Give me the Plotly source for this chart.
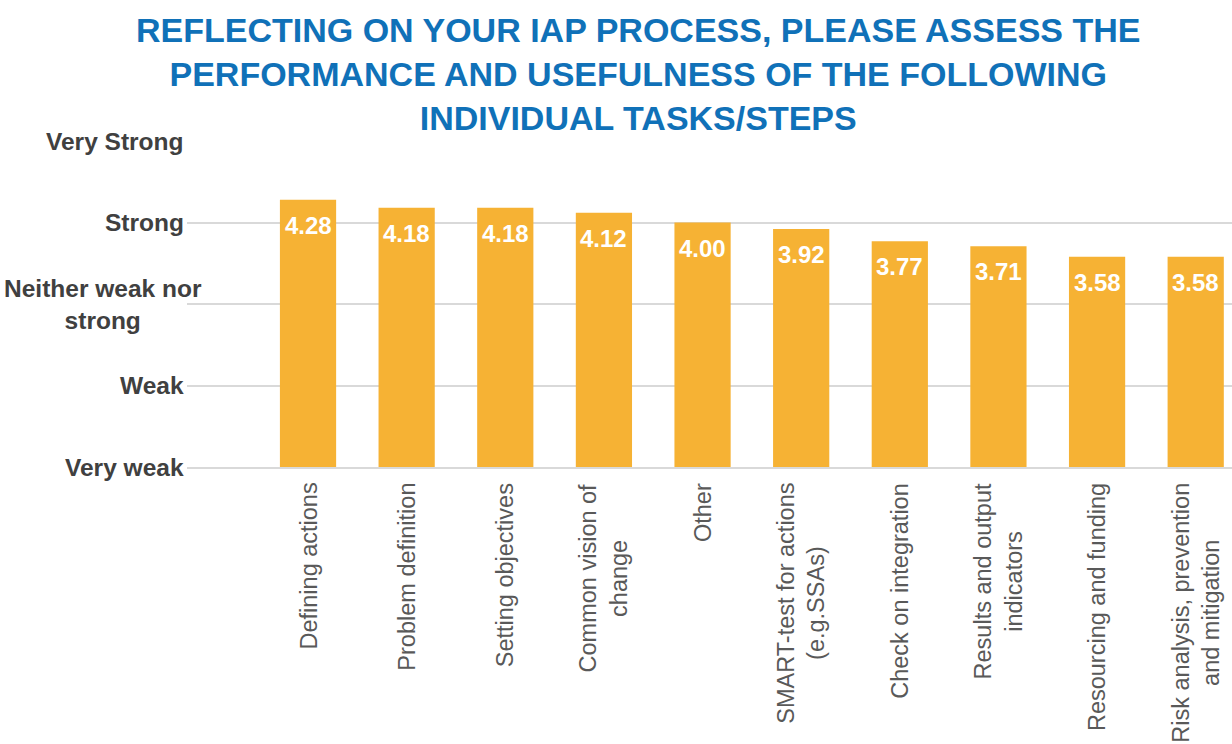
import plotly.graph_objects as go

# ── Datos ─────────────────────────────────────────────────────────────
tareas = [
    "Defining actions",
    "Problem definition",
    "Setting objectives",
    "Common vision of<br>change",
    "Other",
    "SMART-test for actions<br>(e.g.SSAs)",
    "Check on integration",
    "Results and output<br>indicators",
    "Resourcing and funding",
    "Risk analysis, prevention<br>and mitigation",
]
puntuacion = [4.28, 4.18, 4.18, 4.12, 4.00, 3.92, 3.77, 3.71, 3.58, 3.58]

escala_vals = [1, 2, 3, 4, 5]
escala_labels = ["Very weak", "Weak", "Neither weak nor<br>strong", "Strong", "Very Strong"]

TITULO = ("REFLECTING ON YOUR IAP PROCESS, PLEASE ASSESS THE<br>"
          "PERFORMANCE AND USEFULNESS OF THE FOLLOWING<br>"
          "INDIVIDUAL TASKS/STEPS")

BAR_COLOR = "#F6B234"
GRID = "#D9D9D9"
FONT = "Liberation Sans, Arial, sans-serif"

x_idx = list(range(len(tareas)))

fig = go.Figure(go.Bar(
    x=x_idx, y=puntuacion,
    marker_color=BAR_COLOR, marker_line_width=0,
    hoverinfo="skip",
))

# titulo (anotacion para controlar las 3 lineas)
fig.add_annotation(x=0.4316, y=1, xref="paper", yref="paper", text=TITULO,
                   showarrow=False, xanchor="center", yanchor="bottom",
                   align="center", yshift=2,
                   font=dict(family=FONT, size=34, color="#1071B8", weight="bold"))

# etiquetas de valor dentro de la barra
for i, v in zip(x_idx, puntuacion):
    fig.add_annotation(x=i, y=v, xref="x", yref="y", text=f"{v:.2f}",
                       showarrow=False, yanchor="top", yshift=-10,
                       font=dict(family=FONT, size=24, color="white", weight="bold"))

# etiquetas de categoria (giradas, centradas)
for i, t in zip(x_idx, tareas):
    fig.add_annotation(x=i, y=0, xref="x", yref="paper", text=t,
                       showarrow=False, textangle=-90, yanchor="top",
                       xanchor="center", align="center", yshift=-14,
                       font=dict(family=FONT, size=23.5, color="#595959"))

# etiquetas de escala (la de dos lineas sobresale un poco, como en Excel)
for v, t in zip(escala_vals, escala_labels):
    fig.add_annotation(x=0, y=v, xref="paper", yref="y", text=t,
                       showarrow=False, xanchor="right", align="center",
                       xshift=17 if "<br>" in t else -1,
                       font=dict(family=FONT, size=24.5, color="#404040", weight="bold"))

fig.update_layout(
    width=1232, height=744,
    margin=dict(l=187, r=0, t=141, b=277),
    paper_bgcolor="white", plot_bgcolor="white",
    bargap=0.43, showlegend=False,
    xaxis=dict(range=[-1.227, 9.368], showticklabels=False, ticks="",
               showgrid=False, showline=True, linecolor=GRID, linewidth=2,
               zeroline=False),
    yaxis=dict(range=[1, 5], tickvals=escala_vals, showticklabels=False,
               showgrid=True, gridcolor=GRID, gridwidth=2, zeroline=False,
               showline=False),
)

fig.write_html("out.html", config={"displayModeBar": False},
               post_script="document.body.style.margin='0';document.body.style.overflow='hidden';")
